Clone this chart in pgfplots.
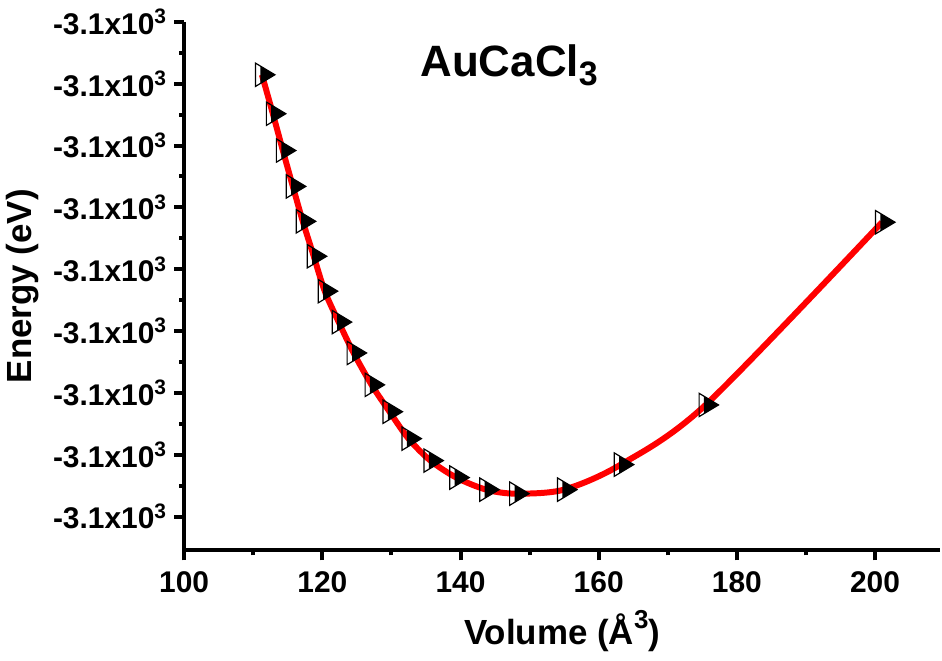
\documentclass[border=0pt]{standalone}
\usepackage{pgfplots}
\pgfplotsset{compat=1.18}
\usepackage{pgfplotstable}
\usepackage{fontspec}
\setmainfont{Liberation Sans}

\pgfdeclareplotmark{halftri}{%
  \pgfpathmoveto{\pgfqpoint{-0.125\pgfplotmarksize}{0.675\pgfplotmarksize}}%
  \pgfpathlineto{\pgfqpoint{\pgfplotmarksize}{0pt}}%
  \pgfpathlineto{\pgfqpoint{-0.125\pgfplotmarksize}{-0.675\pgfplotmarksize}}%
  \pgfpathclose
  \pgfusepath{fill}%
  \pgfpathmoveto{\pgfqpoint{\pgfplotmarksize}{0pt}}%
  \pgfpathlineto{\pgfqpoint{-0.5\pgfplotmarksize}{0.9\pgfplotmarksize}}%
  \pgfpathlineto{\pgfqpoint{-0.5\pgfplotmarksize}{-0.9\pgfplotmarksize}}%
  \pgfpathclose
  \pgfusepath{stroke}%
}

\pgfplotstableread{
V E
111.26 -3099.171
112.84 -3099.297
114.29 -3099.416
115.73 -3099.532
117.17 -3099.645
118.76 -3099.758
120.35 -3099.871
122.37 -3099.971
124.53 -3100.071
127.13 -3100.174
129.73 -3100.261
132.47 -3100.348
135.64 -3100.419
139.39 -3100.474
143.72 -3100.513
148.05 -3100.526
154.98 -3100.513
163.20 -3100.432
175.47 -3100.239
201.01 -3099.648
}\datatable

\begin{document}
\begin{tikzpicture}
\begin{axis}[
  scale only axis, width=379pt, height=265pt,
  xmin=100, xmax=209.4, ymin=-3100.7097, ymax=-3099,
  axis x line*=bottom, axis y line*=left,
  axis line style={line width=2pt, -},
  xtick={100,120,140,160,180,200}, minor x tick num=1,
  ytick={-3100.6,-3100.4,-3100.2,-3100.0,-3099.8,-3099.6,-3099.4,-3099.2,-3099.0},
  minor y tick num=1,
  tick align=outside,
  major tick length=5pt, minor tick length=2.5pt,
  every tick/.style={line width=2pt, black},
  yticklabel={-3.1x10\textsuperscript{3}},
  /pgf/number format/assume math mode=true,
  ticklabel style={font=\fontsize{15}{17}\selectfont\bfseries},
  xticklabel style={yshift=-2pt},
  xlabel={Volume (Å\raisebox{0.45em}{\fontsize{13}{14}\selectfont 3})},
  ylabel={Energy (eV)},
  label style={font=\fontsize{17.5}{19}\selectfont\bfseries},
  xlabel style={yshift=-2pt},
  clip=false,
]
\addplot[only marks, mark=halftri, mark size=6.5pt, mark options={fill=black, draw=black, line width=0.6pt}] table[x=V, y=E] {\datatable};
\addplot[red, line width=3pt, smooth, no marks] table[x=V, y=E] {\datatable};
\node[font=\fontsize{22}{24}\selectfont\bfseries] at (rel axis cs:0.43,0.918) {AuCaCl\raisebox{-0.2em}{\fontsize{17}{18}\selectfont 3}};
\path (rel axis cs:0,1) ++(0pt,11pt) coordinate (topmargin);
\path (rel axis cs:0,0) ++(0pt,-55pt) coordinate (botmargin);
\end{axis}
\end{tikzpicture}
\end{document}
